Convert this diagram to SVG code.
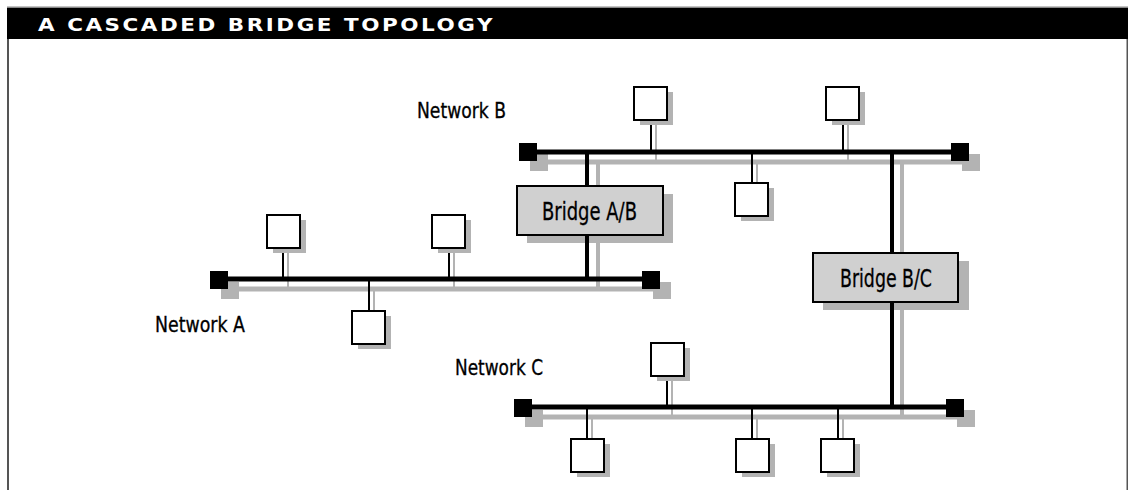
<svg xmlns="http://www.w3.org/2000/svg" width="1128" height="490" viewBox="0 0 1128 490">
<style>
.sh{fill:#b3b3b3}
.bus{stroke:#000;stroke-width:5;fill:none}
.busS{stroke:#b3b3b3;stroke-width:5;fill:none}
.stub{stroke:#000;stroke-width:2;fill:none}
.stubS{stroke:#b3b3b3;stroke-width:2;fill:none}
.vl{stroke:#000;stroke-width:4;fill:none}
.vlS{stroke:#b3b3b3;stroke-width:4;fill:none}
.node{fill:#fff;stroke:#000;stroke-width:2}
.term{fill:#000}
.bridge{fill:#d0d0d0;stroke:#000;stroke-width:2}
.lbl{font-family:"Liberation Sans Narrow","DejaVu Sans Condensed","Liberation Sans",sans-serif;fill:#000;stroke:#000;stroke-width:0.3}
.net{font-size:21px}
.br{font-size:25px}
</style>
<rect x="0" y="0" width="1128" height="490" fill="#fff"/>
<g id="frame">
<rect x="7" y="6.5" width="1121" height="1.5" fill="#888"/>
<rect x="7" y="8" width="1121" height="31" fill="#000"/>
<rect x="7" y="39" width="2" height="451" fill="#555"/>
<rect x="1126.5" y="39" width="1.5" height="451" fill="#555"/>
<text x="38" y="31" font-family="'DejaVu Sans',sans-serif" font-weight="bold" font-size="17" fill="#fff" letter-spacing="2" textLength="457" lengthAdjust="spacingAndGlyphs">A CASCADED BRIDGE TOPOLOGY</text>
</g>
<g id="shadows">
<line class="busS" x1="239" y1="289" x2="660" y2="289"/>
<rect class="sh" x="221" y="282" width="18" height="17"/>
<rect class="sh" x="653" y="282" width="18" height="17"/>
<line class="busS" x1="548" y1="162" x2="969" y2="162"/>
<rect class="sh" x="530" y="154" width="18" height="17"/>
<rect class="sh" x="962" y="154" width="18" height="17"/>
<line class="busS" x1="543" y1="417" x2="964" y2="417"/>
<rect class="sh" x="525" y="410" width="18" height="17"/>
<rect class="sh" x="957" y="410" width="18" height="17"/>
<line class="vlS" x1="598" y1="162" x2="598" y2="289"/>
<line class="vlS" x1="902" y1="162" x2="902" y2="417"/>
<rect class="sh" x="527" y="194" width="146" height="49"/>
<rect class="sh" x="823" y="261" width="146" height="49"/>
</g>
<g id="connectors">
<line class="stubS" x1="288" y1="253" x2="288" y2="289"/>
<line class="stubS" x1="454" y1="253" x2="454" y2="289"/>
<line class="stubS" x1="374" y1="289" x2="374" y2="316"/>
<line class="stubS" x1="656" y1="125" x2="656" y2="162"/>
<line class="stubS" x1="848" y1="125" x2="848" y2="162"/>
<line class="stubS" x1="757" y1="162" x2="757" y2="188"/>
<line class="stubS" x1="672" y1="381" x2="672" y2="417"/>
<line class="stubS" x1="592" y1="417" x2="592" y2="444"/>
<line class="stubS" x1="757" y1="417" x2="757" y2="444"/>
<line class="stubS" x1="843" y1="417" x2="843" y2="444"/>
<line class="stub" x1="283" y1="248" x2="283" y2="279"/>
<line class="stub" x1="449" y1="248" x2="449" y2="279"/>
<line class="stub" x1="369" y1="279" x2="369" y2="311"/>
<line class="stub" x1="651" y1="120" x2="651" y2="152"/>
<line class="stub" x1="843" y1="120" x2="843" y2="152"/>
<line class="stub" x1="752" y1="152" x2="752" y2="183"/>
<line class="stub" x1="667" y1="376" x2="667" y2="407"/>
<line class="stub" x1="587" y1="407" x2="587" y2="439"/>
<line class="stub" x1="752" y1="407" x2="752" y2="439"/>
<line class="stub" x1="838" y1="407" x2="838" y2="439"/>
<line class="vl" x1="587" y1="152" x2="587" y2="279"/>
<line class="vl" x1="892" y1="152" x2="892" y2="407"/>
<line class="bus" x1="228" y1="279" x2="642" y2="279"/>
<line class="bus" x1="537" y1="152" x2="951" y2="152"/>
<line class="bus" x1="532" y1="407" x2="946" y2="407"/>
</g>
<g id="networkA">
<rect class="term" x="210" y="271" width="18" height="18"/>
<rect class="term" x="642" y="271" width="18" height="18"/>
<text class="lbl net" x="155" y="332" textLength="90" lengthAdjust="spacingAndGlyphs">Network  A</text>
</g>
<g id="networkB">
<rect class="term" x="519" y="143" width="18" height="18"/>
<rect class="term" x="951" y="143" width="18" height="18"/>
<text class="lbl net" x="417" y="118" textLength="89" lengthAdjust="spacingAndGlyphs">Network  B</text>
</g>
<g id="networkC">
<rect class="term" x="514" y="399" width="18" height="18"/>
<rect class="term" x="946" y="399" width="18" height="18"/>
<text class="lbl net" x="455" y="375" textLength="88" lengthAdjust="spacingAndGlyphs">Network  C</text>
</g>
<g id="nodeA1"><rect class="sh" x="273" y="220" width="33" height="33"/><rect class="node" x="267" y="215" width="33" height="33"/></g>
<g id="nodeA2"><rect class="sh" x="438" y="220" width="33" height="33"/><rect class="node" x="432" y="215" width="33" height="33"/></g>
<g id="nodeA3"><rect class="sh" x="358" y="316" width="33" height="33"/><rect class="node" x="352" y="311" width="33" height="33"/></g>
<g id="nodeB1"><rect class="sh" x="640" y="92" width="33" height="33"/><rect class="node" x="634" y="87" width="33" height="33"/></g>
<g id="nodeB2"><rect class="sh" x="832" y="92" width="33" height="33"/><rect class="node" x="826" y="87" width="33" height="33"/></g>
<g id="nodeB3"><rect class="sh" x="741" y="188" width="33" height="33"/><rect class="node" x="735" y="183" width="33" height="33"/></g>
<g id="nodeC1"><rect class="sh" x="657" y="348" width="33" height="33"/><rect class="node" x="651" y="343" width="33" height="33"/></g>
<g id="nodeC2"><rect class="sh" x="577" y="444" width="33" height="33"/><rect class="node" x="571" y="439" width="33" height="33"/></g>
<g id="nodeC3"><rect class="sh" x="742" y="444" width="33" height="33"/><rect class="node" x="736" y="439" width="33" height="33"/></g>
<g id="nodeC4"><rect class="sh" x="827" y="444" width="33" height="33"/><rect class="node" x="821" y="439" width="33" height="33"/></g>
<g id="bridgeAB">
<rect class="bridge" x="517" y="186" width="146" height="49"/>
<text class="lbl br" x="542" y="220" textLength="95" lengthAdjust="spacingAndGlyphs">Bridge  A/B</text>
</g>
<g id="bridgeBC">
<rect class="bridge" x="813" y="253" width="145" height="49"/>
<text class="lbl br" x="840" y="287" textLength="92" lengthAdjust="spacingAndGlyphs">Bridge  B/C</text>
</g>
</svg>
